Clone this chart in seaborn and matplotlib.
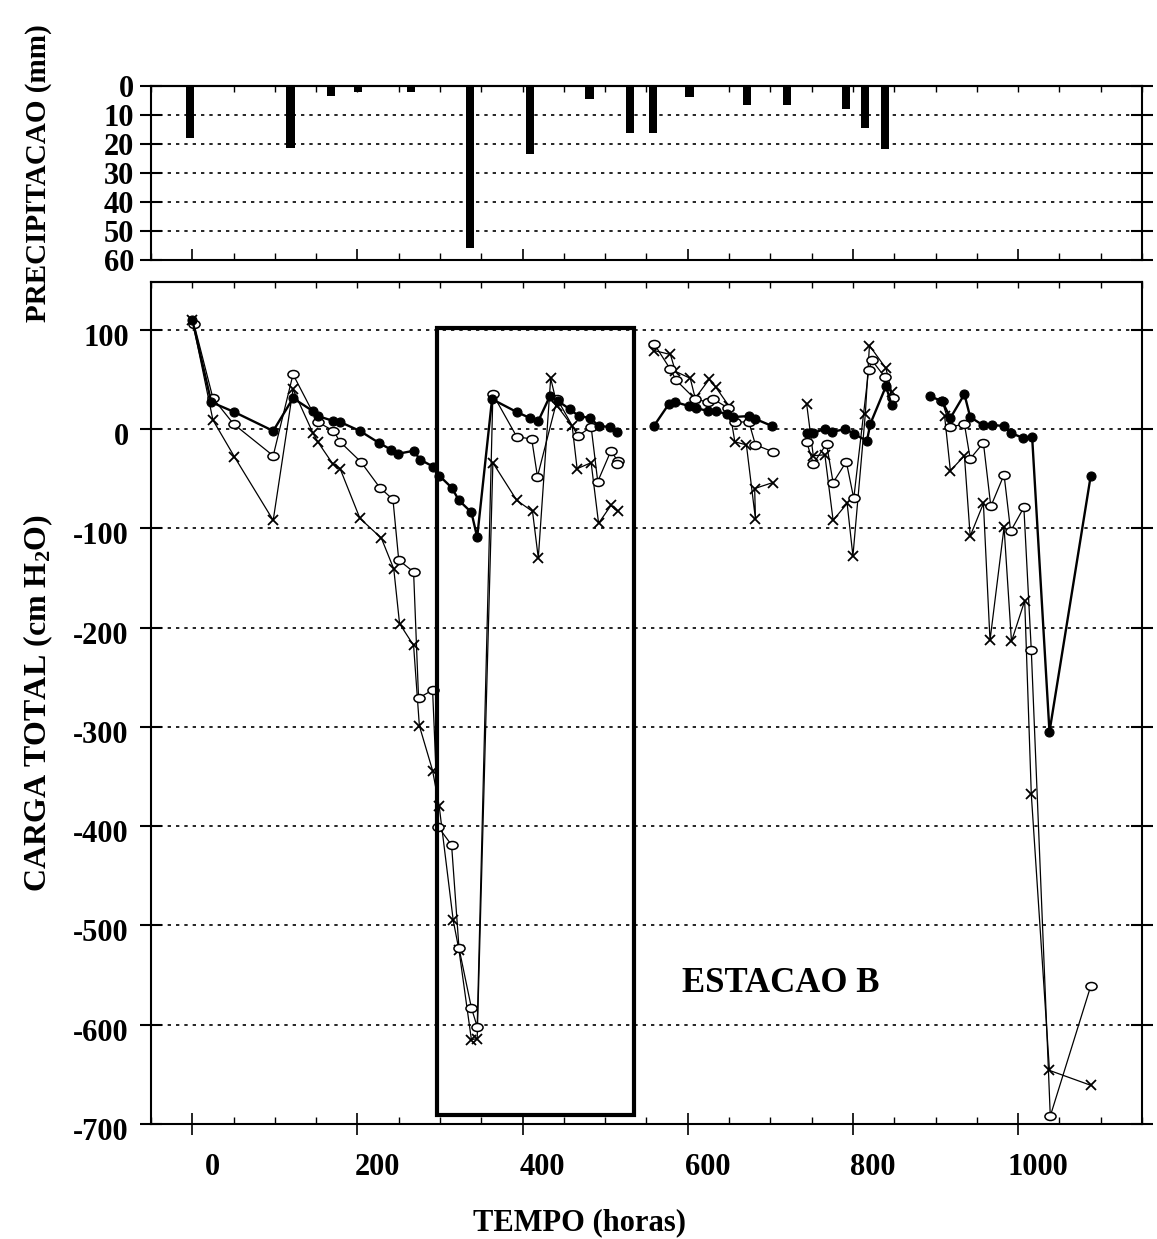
import numpy as np
import pandas as pd
import matplotlib
matplotlib.use("Agg")
import matplotlib.pyplot as plt
import matplotlib.transforms as mtransforms
from matplotlib.ticker import MultipleLocator
from matplotlib.path import Path
from matplotlib.patches import Rectangle
import seaborn as sns

# ---------------- data ----------------
# precipitation (mm) vs time (hours)
chuva_tempo = [-3, 119, 168, 201, 265, 336, 409, 481, 530, 558, 602, 672, 720, 792, 815, 839]
chuva_mm = [18, 21.5, 3.5, 2, 2, 56, 23.5, 4.5, 16.3, 16.3, 3.8, 6.6, 6.6, 8, 14.5, 21.8]

# series 1 : filled circles
cheio_tempo_a = [0, 23, 51, 98, 122, 146, 152, 171, 179, 203, 226, 241, 249, 268, 276, 292, 299,
                 314, 323, 338, 345, 363, 393, 409, 419, 433, 443, 457, 468, 482, 492, 506, 514]
cheio_carga_a = [110, 27, 17, -2, 31, 18, 13, 8, 7, -2, -14, -21, -25, -22, -31, -38, -47,
                 -59, -72, -84, -109, 30, 17, 11, 8, 33, 28, 20, 13, 11, 3, 2, -3]
cheio_tempo_b = [559, 577, 585, 602, 610, 625, 634, 647, 655, 674, 682, 702]
cheio_carga_b = [3, 25, 27, 23, 21, 18, 18, 15, 12, 13, 10, 3]
cheio_tempo_c = [744, 752, 766, 775, 791, 801, 817, 821, 840, 847]
cheio_carga_c = [-4, -4, 0, -3, 0, -5, -12, 5, 43, 24]
cheio_tempo_d = [893, 908, 918, 935, 942, 957, 968, 983, 991, 1006, 1017, 1038, 1088]
cheio_carga_d = [33, 28, 11, 35, 12, 4, 4, 3, -4, -9, -8, -305, -47]

# series 2 : open circles
aberto_tempo_a = [2, 25, 50, 98, 122, 152, 171, 179, 204, 227, 243, 250, 268, 274, 291, 298,
                  314, 323, 338, 345, 364, 393, 411, 418, 442, 467, 483, 491, 507, 515, 514]
aberto_carga_a = [106, 31, 5, -27, 55, 7, -2, -13, -33, -59, -71, -132, -144, -271, -263, -401,
                  -419, -523, -583, -602, 35, -8, -10, -48, 30, -7, 2, -53, -22, -32, -35]
aberto_tempo_b = [559, 579, 586, 609, 625, 631, 649, 657, 674, 682, 703]
aberto_carga_b = [86, 60, 49, 30, 27, 30, 21, 7, 7, -16, -23]
aberto_tempo_c = [744, 752, 768, 776, 792, 801, 819, 823, 839, 848]
aberto_carga_c = [-13, -35, -15, -54, -33, -70, 59, 69, 52, 31]
aberto_tempo_d = [908, 918, 935, 942, 958, 967, 983, 991, 1007, 1016, 1039, 1088]
aberto_carga_d = [28, 2, 5, -30, -14, -78, -46, -103, -79, -223, -692, -561]

# series 3 : crosses
cruz_tempo_a = [0, 25, 51, 98, 122, 146, 152, 170, 179, 203, 229, 244, 251, 268, 275, 291, 299,
                316, 323, 338, 345, 364, 393, 412, 419, 434, 442, 460, 466, 483, 492, 507, 515]
cruz_carga_a = [110, 9, -28, -92, 40, -4, -13, -35, -40, -90, -110, -141, -196, -218, -299, -344, -380,
                -495, -525, -615, -614, -34, -72, -83, -130, 51, 23, 3, -40, -34, -95, -77, -83]
cruz_tempo_b = [559, 579, 585, 603, 609, 626, 634, 650, 657, 671, 682, 681, 703]
cruz_carga_b = [79, 75, 58, 51, 31, 50, 42, 23, -13, -16, -91, -60, -54]
cruz_tempo_c = [744, 752, 766, 776, 793, 800, 815, 820, 840, 847]
cruz_carga_c = [25, -27, -26, -92, -75, -128, 15, 84, 61, 37]
cruz_tempo_d = [911, 918, 935, 942, 958, 966, 983, 992, 1008, 1016, 1038, 1088]
cruz_carga_d = [13, -42, -27, -108, -75, -213, -99, -214, -173, -368, -646, -661]

y_ticks_main = [100, 0, -100, -200, -300, -400, -500, -600, -700]
y_ticks_top = [0, 10, 20, 30, 40, 50, 60]
x_ticks = [0, 200, 400, 600, 800, 1000]


def serie(grupos):
    partes = []
    for nome, (t, c) in grupos.items():
        partes.append(pd.DataFrame({"tempo": t, "carga": c, "grupo": nome}))
    return pd.concat(partes, ignore_index=True)


df_cheio = serie({"a": (cheio_tempo_a, cheio_carga_a), "b": (cheio_tempo_b, cheio_carga_b),
                  "c": (cheio_tempo_c, cheio_carga_c), "d": (cheio_tempo_d, cheio_carga_d)})
df_aberto = serie({"a": (aberto_tempo_a, aberto_carga_a), "b": (aberto_tempo_b, aberto_carga_b),
                   "c": (aberto_tempo_c, aberto_carga_c), "d": (aberto_tempo_d, aberto_carga_d)})
df_cruz = serie({"a": (cruz_tempo_a, cruz_carga_a), "b": (cruz_tempo_b, cruz_carga_b),
                 "c": (cruz_tempo_c, cruz_carga_c), "d": (cruz_tempo_d, cruz_carga_d)})

# ---------------- style ----------------
sns.set_theme(style="ticks")
plt.rcParams.update({
    "font.family": ["Liberation Serif", "DejaVu Serif"],
    "font.weight": "bold",
    "axes.labelweight": "bold",
    "mathtext.fontset": "custom",
    "mathtext.rm": "Liberation Serif:bold",
    "mathtext.bf": "Liberation Serif:bold",
    "mathtext.it": "Liberation Serif:bold:italic",
    "axes.edgecolor": "black",
    "axes.linewidth": 1.5,
    "xtick.color": "black",
    "ytick.color": "black",
    "xtick.labelcolor": "black",
    "ytick.labelcolor": "black",
    "text.color": "black",
    "axes.labelcolor": "black",
})

fig = plt.figure(figsize=(11.57, 12.39), dpi=100)
ax_top = fig.add_axes([0.1305, 0.7902, 0.8565, 0.1404])
ax = fig.add_axes([0.1305, 0.0928, 0.8565, 0.6796])

dots = (0, (2, 3))
FS = 22

# ---------------- precipitation panel ----------------
ax_top.bar(chuva_tempo, chuva_mm, width=10, color="black", linewidth=0, zorder=3)
ax_top.set_xlim(-50, 1150)
ax_top.set_ylim(60, 0)
ax_top.set_yticks(y_ticks_top)
ax_top.set_yticklabels([str(v) for v in y_ticks_top], fontsize=FS, fontweight="bold", color="black")
ax_top.set_axisbelow(True)
for v in y_ticks_top[1:-1]:
    ax_top.axhline(v, color="black", lw=1.2, ls=dots, zorder=1)
ax_top.xaxis.set_major_locator(MultipleLocator(200))
ax_top.xaxis.set_minor_locator(MultipleLocator(50))
ax_top.tick_params(axis="x", which="major", direction="in", length=8, width=1.2, labelbottom=False)
ax_top.tick_params(axis="x", which="minor", direction="in", length=5, width=1.0)
ax_top.tick_params(axis="y", which="major", direction="inout", length=16, width=1.5,
                   left=True, right=True, pad=4)
sec_t = ax_top.secondary_xaxis("top")
sec_t.xaxis.set_major_locator(MultipleLocator(50))
sec_t.tick_params(direction="in", length=4, width=1.0, labeltop=False)
ax_top.set_ylabel("PRECIPITACAO (mm)", fontsize=21, fontweight="bold", color="black")
ax_top.yaxis.set_label_coords(-0.100, 0.5)

# ---------------- main panel ----------------
ell_path = Path.unit_circle()
ellipse = Path(ell_path.vertices * np.array([1.0, 0.72]), ell_path.codes)

sns.lineplot(data=df_cruz, x="tempo", y="carga", units="grupo", estimator=None, sort=False,
             color="black", linewidth=0.9, marker="x", markersize=7.5,
             markeredgewidth=1.3, markeredgecolor="black", ax=ax, zorder=3)
sns.lineplot(data=df_aberto, x="tempo", y="carga", units="grupo", estimator=None, sort=False,
             color="black", linewidth=0.9, marker=ellipse, markersize=8,
             markerfacecolor="white", markeredgecolor="black", markeredgewidth=1.1, ax=ax, zorder=4)
sns.lineplot(data=df_cheio, x="tempo", y="carga", units="grupo", estimator=None, sort=False,
             color="black", linewidth=1.7, marker="o", markersize=6.5,
             markerfacecolor="black", markeredgecolor="black", markeredgewidth=0.8, ax=ax, zorder=5)

ax.set_xlim(-50, 1150)
ax.set_ylim(-700, 148)
ax.set_yticks(y_ticks_main)
ax.set_yticklabels([str(v) for v in y_ticks_main], fontsize=FS, fontweight="bold", color="black")
ax.set_xticks(x_ticks)
ax.set_xticklabels([str(v) for v in x_ticks], fontsize=FS, fontweight="bold", color="black")
ax.xaxis.set_minor_locator(MultipleLocator(50))
for v in y_ticks_main[:-1]:
    ax.axhline(v, color="black", lw=1.2, ls=dots, zorder=1)
ax.tick_params(axis="x", which="major", direction="inout", length=16, width=1.2, pad=13)
ax.tick_params(axis="x", which="minor", direction="in", length=5, width=1.0)
ax.tick_params(axis="y", which="major", direction="inout", length=16, width=1.5,
               left=True, right=True, pad=8)
sec_m = ax.secondary_xaxis("top")
sec_m.xaxis.set_major_locator(MultipleLocator(50))
sec_m.tick_params(direction="in", length=4, width=1.0, labeltop=False)

# highlighted window
ax.add_patch(Rectangle((296, -691), 535 - 296, 102 + 691, fill=False,
                       edgecolor="black", linewidth=3, zorder=6))
ax.text(712, -558, "ESTACAO B", fontsize=25, fontweight="bold", color="black",
        ha="center", va="center")

ax.set_xlabel("TEMPO (horas)", fontsize=22, fontweight="bold", color="black")
ax.xaxis.set_label_coords(0.432, -0.100)
ax.xaxis.label.set_va("top")
ax.set_ylabel(r"CARGA TOTAL (cm H$_{2}$O)", fontsize=23, fontweight="bold", color="black")
ax.yaxis.set_label_coords(-0.097, 0.5)

# label offsets as in the original artwork
dx = mtransforms.ScaledTranslation(20 / 100, 0, fig.dpi_scale_trans)
for lbl in ax.get_xticklabels():
    lbl.set_transform(lbl.get_transform() + dx)
dy = mtransforms.ScaledTranslation(0, -5 / 100, fig.dpi_scale_trans)
for lbl in ax.get_yticklabels():
    lbl.set_transform(lbl.get_transform() + dy)

fig.savefig("out.png", dpi=100)
